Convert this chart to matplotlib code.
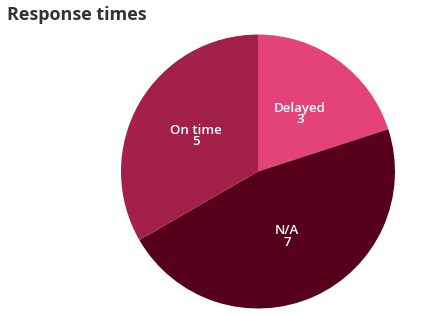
import matplotlib
matplotlib.use("Agg")
import matplotlib.pyplot as plt

# --- data ---
categories = ["Delayed", "N/A", "On time"]
counts = [3, 7, 5]
colors = ["#E44379", "#56001B", "#A32049"]

plt.rcParams["font.family"] = ["Open Sans", "DejaVu Sans"]

fig = plt.figure(figsize=(4.39, 3.15), dpi=100)
fig.patch.set_facecolor("white")

fig.text(0.016, 1 - 19.5 / 315, "Response times", fontsize=13, fontweight="bold",
         color="#333333", ha="left", va="baseline")

ax = fig.add_axes([0.2756, 0.0206, 0.6241, 0.8698])
labels = [f"{c}\n{v}" for c, v in zip(categories, counts)]
wedges, texts = ax.pie(counts, colors=colors, startangle=90, counterclock=False,
                       labels=labels, labeldistance=0.52,
                       wedgeprops=dict(linewidth=0),
                       textprops=dict(color="white", fontsize=9.5, fontweight="semibold",
                                      ha="center", va="center", linespacing=0.85))
ax.set_xlim(-1, 1)
ax.set_ylim(-1, 1)
ax.set_aspect("equal")

fig.savefig("out.png", dpi=100)
